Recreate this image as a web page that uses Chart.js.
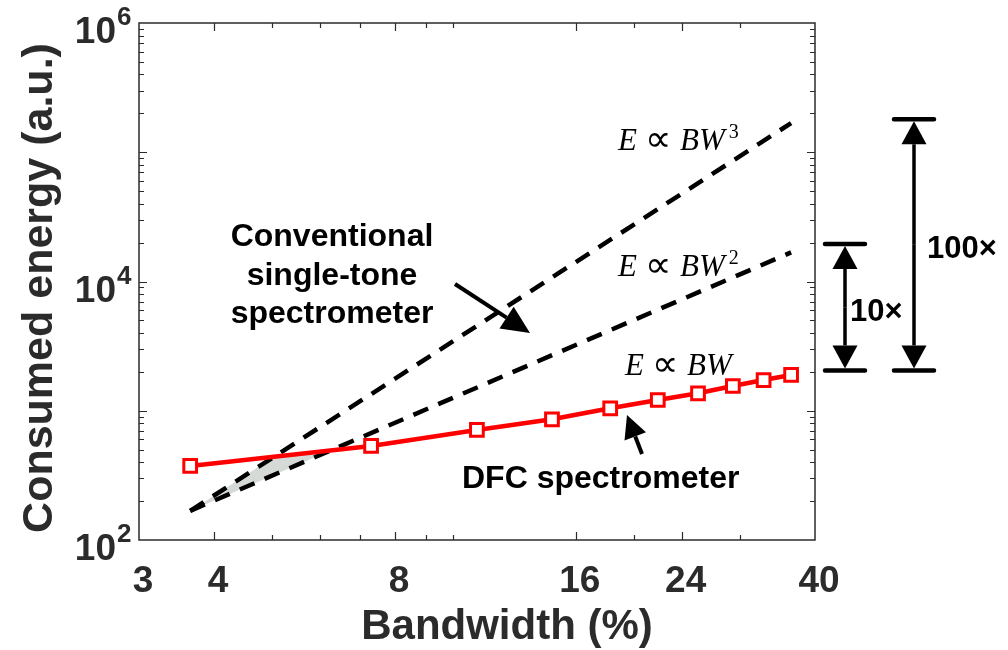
<!DOCTYPE html>
<html lang="en">
<head>
<meta charset="UTF-8">
<title>Consumed energy vs. bandwidth</title>
<script src="https://cdn.jsdelivr.net/npm/chart.js"></script>
<style>
    body { margin: 0; background: #fff; }
    canvas { display: block; }
</style>
</head>
<body>
<canvas id="energyChart" width="1008" height="650"></canvas>
<script>
// DFC spectrometer: bandwidth (%) and consumed energy (a.u.)
const bandwidth = [3.65, 7.3, 10.95, 14.6, 18.25, 21.9, 25.55, 29.2, 32.85, 36.5];
const dfcEnergy = [374, 534, 710, 859, 1045, 1211, 1365, 1554, 1729, 1891];

// conventional single-tone spectrometer, end points of the two scaling laws
const lawBandwidth = [3.65, 36.5];
const cubicLaw = [168, 168000];
const squareLaw = [168, 16800];

// ratio bars on the right
const ratioBase = 2050;
const ratioTops = [19500, 180000];
const ratioLabels = ['10×', '100×'];

// ticks
const xTickLabels = [3, 4, 8, 16, 24, 40];
const xMajorTicks = [4, 8, 16, 24];
const xMinorTicks = [5, 6, 7, 9, 10, 20, 30];
const yTickLabels = [1e2, 1e4, 1e6];

const SANS = 'Arial, "Liberation Sans", sans-serif';
const SERIF = '"Times New Roman", "Liberation Serif", serif';
const AXIS_GREY = '#2b2b2b';

// where the DFC line crosses a scaling law (first segment, log-log)
function crossing(law) {
    const lx0 = Math.log10(bandwidth[0]), lx1 = Math.log10(bandwidth[1]);
    const ly0 = Math.log10(dfcEnergy[0]), ly1 = Math.log10(dfcEnergy[1]);
    const redSlope = (ly1 - ly0) / (lx1 - lx0);
    const la0 = Math.log10(lawBandwidth[0]);
    const lawSlope = (Math.log10(law[1]) - Math.log10(law[0])) / (Math.log10(lawBandwidth[1]) - la0);
    const b0 = Math.log10(law[0]) + lawSlope * (lx0 - la0);
    const d = (ly0 - b0) / (lawSlope - redSlope);
    return { x: Math.pow(10, lx0 + d), y: Math.pow(10, ly0 + redSlope * d) };
}

const start = { x: lawBandwidth[0], y: cubicLaw[0] };
const overlap = [start, crossing(cubicLaw), crossing(squareLaw), start];

function drawArrow(ctx, x1, y1, x2, y2, headLen, headWidth, lineWidth) {
    const ang = Math.atan2(y2 - y1, x2 - x1);
    const bx = x2 - headLen * Math.cos(ang), by = y2 - headLen * Math.sin(ang);
    ctx.lineWidth = lineWidth;
    ctx.beginPath();
    ctx.moveTo(x1, y1);
    ctx.lineTo(bx, by);
    ctx.stroke();
    const nx = -Math.sin(ang) * headWidth / 2, ny = Math.cos(ang) * headWidth / 2;
    ctx.beginPath();
    ctx.moveTo(x2, y2);
    ctx.lineTo(bx + nx, by + ny);
    ctx.lineTo(bx - nx, by - ny);
    ctx.closePath();
    ctx.fill();
}

// "E ∝ BW^n" with italic letters and an upright proportional sign
function drawLaw(ctx, left, baseline, power) {
    ctx.textBaseline = 'alphabetic';
    ctx.textAlign = 'left';
    ctx.font = 'italic 31px ' + SERIF;
    ctx.fillText('E', left, baseline);
    ctx.font = '37px ' + SERIF;
    ctx.fillText('∝', left + 27, baseline + 1);
    ctx.font = 'italic 31px ' + SERIF;
    ctx.fillText('BW', left + 62, baseline);
    const w = ctx.measureText('BW').width;
    if (power) {
        ctx.font = '20px ' + SERIF;
        ctx.fillText(power, left + 62 + w + 4, baseline - 12);
    }
}

const decorations = {
    id: 'decorations',
    afterDraw(chart) {
        const { ctx, chartArea: a, scales: { x, y } } = chart;
        ctx.save();

        // axes box
        ctx.strokeStyle = AXIS_GREY;
        ctx.lineWidth = 1.5;
        ctx.strokeRect(a.left, a.top, a.right - a.left, a.bottom - a.top);

        // inward tick marks on all four sides
        ctx.lineWidth = 1.2;
        ctx.beginPath();
        xMajorTicks.concat(xMinorTicks).forEach(v => {
            const px = Math.round(x.getPixelForValue(v)) + 0.5;
            const len = xMajorTicks.includes(v) ? 8 : 5;
            ctx.moveTo(px, a.bottom); ctx.lineTo(px, a.bottom - len);
            ctx.moveTo(px, a.top); ctx.lineTo(px, a.top + len);
        });
        for (let e = 2; e < 6; e++) {
            for (let m = 1; m < 10; m++) {
                const v = m * Math.pow(10, e);
                if (v <= 100) continue;
                const py = Math.round(y.getPixelForValue(v)) + 0.5;
                const len = m === 1 ? 8 : 5;
                ctx.moveTo(a.left, py); ctx.lineTo(a.left + len, py);
                ctx.moveTo(a.right, py); ctx.lineTo(a.right - len, py);
            }
        }
        ctx.stroke();

        // y tick labels as powers of ten
        ctx.fillStyle = AXIS_GREY;
        ctx.textBaseline = 'middle';
        yTickLabels.forEach(v => {
            const py = y.getPixelForValue(v);
            ctx.textAlign = 'right';
            ctx.font = 'bold 37px ' + SANS;
            ctx.fillText('10', a.left - 23, py + 10);
            ctx.textAlign = 'left';
            ctx.font = 'bold 26px ' + SANS;
            ctx.fillText(String(Math.round(Math.log10(v))), a.left - 22, py - 5);
        });

        // axis titles
        ctx.font = 'bold 42px ' + SANS;
        ctx.textAlign = 'center';
        ctx.fillText('Bandwidth (%)', 507, 627);
        ctx.save();
        ctx.translate(40, 288);
        ctx.rotate(-Math.PI / 2);
        ctx.font = 'bold 43px ' + SANS;
        ctx.fillText('Consumed energy (a.u.)', 0, 0);
        ctx.restore();

        // annotations
        ctx.fillStyle = '#000';
        ctx.strokeStyle = '#000';
        drawLaw(ctx, 618, 150, '3');
        drawLaw(ctx, 618, 276, '2');
        drawLaw(ctx, 625, 375, '');

        ctx.font = 'bold 32px ' + SANS;
        ctx.textAlign = 'center';
        ctx.textBaseline = 'alphabetic';
        ['Conventional', 'single-tone', 'spectrometer'].forEach((t, i) => {
            ctx.fillText(t, 332, 246 + i * 38.5);
        });
        ctx.font = 'bold 32px ' + SANS;
        ctx.textAlign = 'left';
        ctx.fillText('DFC spectrometer', 462, 488);

        drawArrow(ctx, 455, 284, 530, 333, 28, 26, 4);
        drawArrow(ctx, 642, 454, 627, 415, 23, 23, 4);

        // ratio bars beyond the right axis
        const centers = [845, 914];
        ratioTops.forEach((top, i) => {
            const cx = centers[i];
            const yTop = y.getPixelForValue(top);
            const yBot = y.getPixelForValue(ratioBase);
            ctx.lineCap = 'round';
            ctx.lineWidth = 4.5;
            ctx.beginPath();
            ctx.moveTo(cx - 20, yTop); ctx.lineTo(cx + 20, yTop);
            ctx.moveTo(cx - 20, yBot); ctx.lineTo(cx + 20, yBot);
            ctx.stroke();
            ctx.lineCap = 'butt';
            drawArrow(ctx, cx, (yTop + yBot) / 2, cx, yTop + 2, 23, 25, 3.5);
            drawArrow(ctx, cx, (yTop + yBot) / 2, cx, yBot - 2, 23, 25, 3.5);
            ctx.font = 'bold 31px ' + SANS;
            ctx.textAlign = 'left';
            ctx.textBaseline = 'middle';
            ctx.fillText(ratioLabels[i], cx + (i === 0 ? 5 : 13), (yTop + yBot) / 2 + 5);
        });

        ctx.restore();
    }
};

const toPoints = (xs, ys) => xs.map((v, i) => ({ x: v, y: ys[i] }));

new Chart(document.getElementById('energyChart'), {
    type: 'scatter',
    data: {
        datasets: [
            {
                label: 'DFC spectrometer',
                data: toPoints(bandwidth, dfcEnergy),
                showLine: true,
                borderColor: '#ff0000',
                borderWidth: 4.5,
                pointStyle: 'rect',
                pointRadius: 9,
                pointBorderWidth: 3,
                pointBorderColor: '#ff0000',
                pointBackgroundColor: '#ffffff',
                order: 0
            },
            {
                label: 'E ∝ BW³',
                data: toPoints(lawBandwidth, cubicLaw),
                showLine: true,
                borderColor: '#000',
                borderWidth: 4.5,
                borderDash: [16, 11],
                pointRadius: 0,
                order: 1
            },
            {
                label: 'E ∝ BW²',
                data: toPoints(lawBandwidth, squareLaw),
                showLine: true,
                borderColor: '#000',
                borderWidth: 4.5,
                borderDash: [16, 11],
                pointRadius: 0,
                order: 1
            },
            {
                label: 'overlap',
                data: overlap,
                showLine: true,
                borderWidth: 0,
                borderColor: 'rgba(0,0,0,0)',
                backgroundColor: 'rgba(200, 206, 200, 0.75)',
                fill: 'shape',
                pointRadius: 0,
                order: 3
            }
        ]
    },
    options: {
        responsive: false,
        animation: false,
        devicePixelRatio: 1,
        events: [],
        layout: { padding: { left: 14, right: 193, top: 23, bottom: 4 } },
        plugins: {
            legend: { display: false },
            tooltip: { enabled: false }
        },
        scales: {
            x: {
                type: 'logarithmic',
                min: 3,
                max: 40,
                grid: { display: false, drawTicks: false },
                border: { display: false },
                afterBuildTicks: (s) => { s.ticks = xTickLabels.map(v => ({ value: v })); },
                afterFit: (s) => { s.height = 106; },
                ticks: {
                    autoSkip: false,
                    maxRotation: 0,
                    padding: 20,
                    labelOffset: 4,
                    color: AXIS_GREY,
                    font: { family: SANS, size: 37, weight: 'bold' },
                    callback: (v) => String(v)
                }
            },
            y: {
                type: 'logarithmic',
                min: 100,
                max: 1e6,
                grid: { display: false, drawTicks: false },
                border: { display: false },
                ticks: { display: false },
                afterFit: (s) => { s.width = 125; }
            }
        }
    },
    plugins: [decorations]
});
</script>
</body>
</html>
